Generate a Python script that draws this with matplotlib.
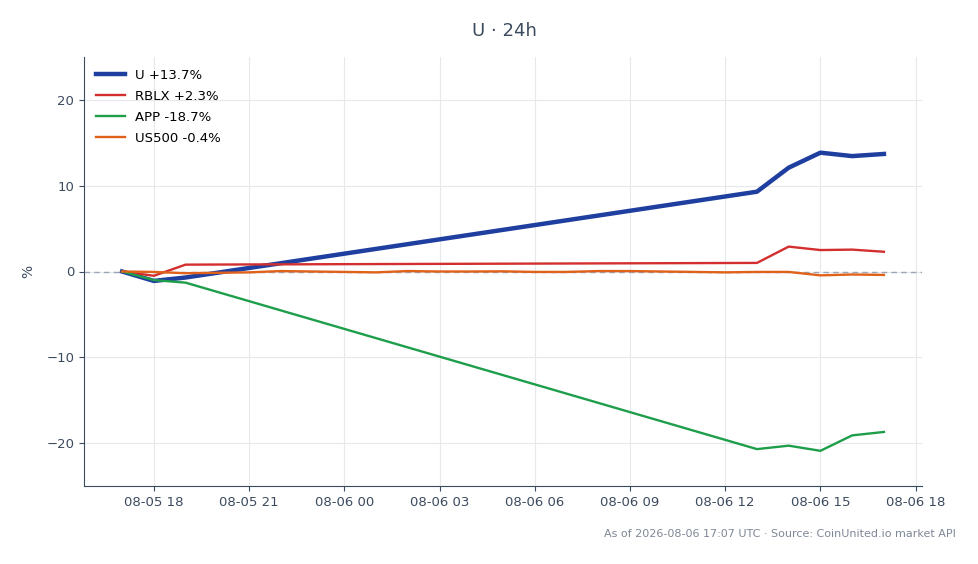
import matplotlib
matplotlib.use("Agg")
import matplotlib.pyplot as plt
import matplotlib.dates as mdates
import numpy as np
import pandas as pd

# ---- data ----
hourly_times = pd.date_range("2026-08-05 17:00", "2026-08-06 17:00", freq="h")
stock_idx = [0, 1, 2, 20, 21, 22, 23, 24]
stock_times = hourly_times[stock_idx]

u_vals = [0.0, -1.1, -0.7, 9.3, 12.1, 13.85, 13.45, 13.7]
rblx_vals = [0.0, -0.5, 0.8, 1.0, 2.9, 2.5, 2.55, 2.3]
app_vals = [0.0, -1.0, -1.3, -20.7, -20.3, -20.9, -19.1, -18.7]
us500_vals = [0.0, -0.05, -0.2, -0.15, -0.1, 0.05, 0.0, -0.05, -0.1, 0.05, 0.0, 0.0,
              0.02, -0.05, -0.05, 0.05, 0.05, 0.0, -0.05, -0.1, -0.05, -0.05, -0.45, -0.35, -0.4]

series = [
    ("U +13.7%", stock_times, u_vals, "#1f3fa0", 3.2),
    ("RBLX +2.3%", stock_times, rblx_vals, "#d32f2f", 1.7),
    ("APP -18.7%", stock_times, app_vals, "#1e9e4a", 1.7),
    ("US500 -0.4%", hourly_times, us500_vals, "#e0621a", 1.7),
]

title = "U · 24h"
footer = "As of 2026-08-06 17:07 UTC · Source: CoinUnited.io market API"

# ---- plot ----
fig = plt.figure(figsize=(9.79, 5.64), dpi=100)
ax = fig.add_axes([84/979, 1-486/564, (922-84)/979, (486-57)/564])

txt = "#3c4a5e"
ax.axhline(0, color="#9aa5b8", lw=1, ls=(0, (4, 3)), zorder=1)
for label, t, v, c, lw in series:
    ax.plot(t, v, color=c, lw=lw, label=label, zorder=3)

ax.set_ylim(-25, 25)
ax.set_yticks([-20, -10, 0, 10, 20])
ax.xaxis.set_major_locator(mdates.HourLocator(byhour=[0, 3, 6, 9, 12, 15, 18, 21]))
ax.xaxis.set_major_formatter(mdates.DateFormatter("%m-%d %H"))
ax.grid(True, color="#e6e8ec", lw=0.8)
ax.set_axisbelow(True)
for s in ["top", "right"]:
    ax.spines[s].set_visible(False)
for s in ["left", "bottom"]:
    ax.spines[s].set_color(txt)
ax.tick_params(colors=txt, labelsize=9.5, labelcolor=txt)
ax.set_ylabel("%", color=txt, fontsize=10, labelpad=8)

leg = ax.legend(loc="upper left", frameon=False, fontsize=9.5, handlelength=2.2,
                handletextpad=0.75, labelspacing=0.6)

fig.text(0.515, 1-31/564, title, ha="center", va="center", fontsize=13, color=txt)
fig.text(956/979, 1-534/564, footer, ha="right", va="center", fontsize=8, color="#7f8896")

fig.savefig("out.png", dpi=100)
